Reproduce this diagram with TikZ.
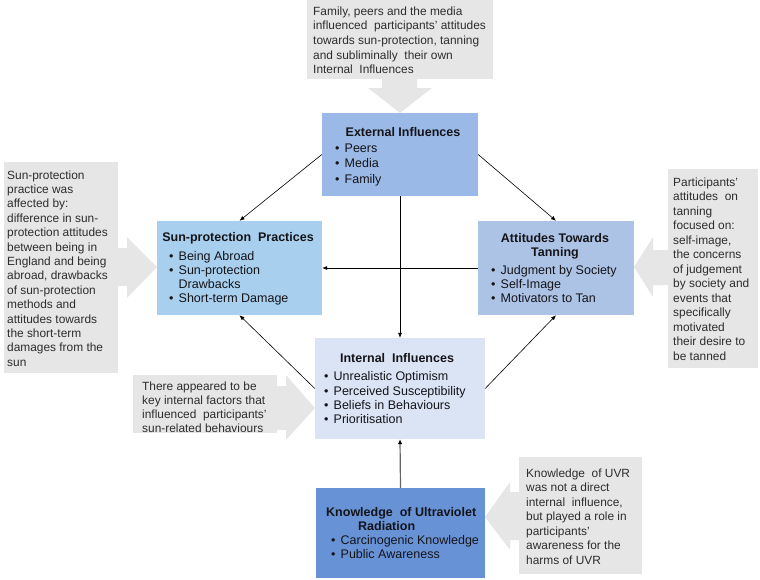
\documentclass[tikz,border=0pt]{standalone}
\usepackage{fontspec}
\setmainfont{Liberation Sans}
\usetikzlibrary{arrows.meta}
\definecolor{cgray}{RGB}{230,230,230}
\definecolor{ctxt}{RGB}{45,45,45}
\definecolor{btxt}{RGB}{20,20,25}
\definecolor{extc}{RGB}{155,185,230}
\definecolor{sunc}{RGB}{169,207,238}
\definecolor{attc}{RGB}{173,195,230}
\definecolor{intc}{RGB}{219,228,245}
\definecolor{knowc}{RGB}{104,146,214}
\newcommand{\bl}{\makebox[9.5pt][l]{\textbullet}}
\newcommand{\bi}{\makebox[9.5pt][l]{}}
\begin{document}
\begin{tikzpicture}[x=1pt,y=-1pt,
  box/.style={rectangle,draw=none,inner sep=0},
  ctext/.style={font=\fontsize{11.9}{#1}\selectfont,align=left,inner sep=0,anchor=north west,text=ctxt},
  btitle/.style={font=\bfseries\fontsize{12.5}{14}\selectfont,inner sep=0,anchor=base,text=btxt},
  blist/.style={font=\fontsize{12.5}{#1}\selectfont,align=left,inner sep=0,anchor=north west,text=btxt},
  conn/.style={line width=0.6pt,-{Latex[length=5pt,width=4pt]}}
]
\useasboundingbox (0,0) rectangle (760,579);

% callout arrows
\fill[cgray] (382,79) -- (417,79) -- (417,88) -- (432,88) -- (400,113) -- (368,88) -- (382,88) -- cycle;
\fill[cgray] (118,248) -- (127,248) -- (127,237) -- (157,267) -- (127,298) -- (127,286) -- (118,286) -- cycle;
\fill[cgray] (668,250) -- (653,250) -- (653,237) -- (634,267) -- (653,297) -- (653,285) -- (668,285) -- cycle;
\fill[cgray] (277,386) -- (286,386) -- (286,375) -- (315,408) -- (286,440) -- (286,430) -- (277,430) -- cycle;
\fill[cgray] (519,492) -- (510,492) -- (510,482) -- (485,517) -- (510,550) -- (510,540) -- (519,540) -- cycle;

% callout boxes
\node[box,fill=cgray,minimum width=186pt,minimum height=79pt] (ctop) at (400,39.5) {};
\node[box,fill=cgray,minimum width=114pt,minimum height=211pt] (cleft) at (61,267.5) {};
\node[box,fill=cgray,minimum width=90pt,minimum height=199pt] (cright) at (713,268.5) {};
\node[box,fill=cgray,minimum width=144pt,minimum height=58pt] (cbl) at (205,404) {};
\node[box,fill=cgray,minimum width=123pt,minimum height=117pt] (cbr) at (580.5,515.5) {};

\node[ctext=14.7] (tctop) at (313,4.7) {\strut Family,\ peers and the\ media\\influenced\ \ participants'\ attitudes\\towards sun-protection,\ tanning\\and subliminally\ \ their own\\Internal\ \ Influences};
\node[ctext=14.4] (tcleft) at (7,168.9) {\strut Sun-protection\\practice was\\affected by:\\difference\ in sun-\\protection\ attitudes\\between\ being in\\England and being\\abroad, drawbacks\\of sun-protection\\methods\ and\\attitudes\ towards\\the short-term\\damages\ from the\\sun};
\node[ctext=14.5] (tcright) at (673,175.9) {\strut Participants'\\attitudes\ \ on\\tanning\\focused on:\\self-image,\\the concerns\\of judgement\\by society and\\events that\\specifically\\motivated\\their desire to\\be tanned};
\node[ctext=14] (tcbl) at (142,380.2) {\strut There appeared\ to be\\key internal\ factors that\\influenced\ \ participants'\\sun-related\ behaviours};
\node[ctext=14.5] (tcbr) at (526,466.9) {\strut Knowledge\ \ of UVR\\was not a direct\\internal\ \ influence,\\but played\ a role in\\participants'\\awareness\ for the\\harms of UVR};

% main boxes
\node[box,fill=extc,minimum width=156pt,minimum height=83pt] (ext) at (400,154.5) {};
\node[box,fill=sunc,minimum width=165pt,minimum height=94pt] (sun) at (239.5,268) {};
\node[box,fill=attc,minimum width=156pt,minimum height=94pt] (att) at (556,268) {};
\node[box,fill=intc,minimum width=170pt,minimum height=101pt] (int) at (400,388.5) {};
\node[box,fill=knowc,minimum width=169pt,minimum height=90pt] (know) at (400.5,533) {};

\node[btitle] (text) at (403,136.5) {External Influences};
\node[blist=15.7] (lext) at (335,141) {\strut\bl Peers\\\bl Media\\\bl Family};

\node[btitle] (tsun) at (238,241.5) {Sun-protection\ \ Practices};
\node[blist=13.9] (lsun) at (169,250.8) {\strut\bl Being Abroad\\\bl Sun-protection\\\bi Drawbacks\\\bl Short-term Damage};

\node[btitle,anchor=north,align=center] (tatt) at (555,232.7) {\strut Attitudes\ Towards\\Tanning};
\node[blist=14] (latt) at (491,264.7) {\strut\bl Judgment by Society\\\bl Self-Image\\\bl Motivators to Tan};

\node[btitle] (tint) at (397,362.5) {Internal\ \ Influences};
\node[blist=14.3] (lint) at (324,370.5) {\strut\bl Unrealistic Optimism\\\bl Perceived Susceptibility\\\bl Beliefs in Behaviours\\\bl Prioritisation};

\node[btitle,anchor=north west,align=left] (tknow) at (326,506.7) {\strut Knowledge\ \ of Ultraviolet\\\hspace*{32pt}Radiation};
\node[blist=13.5] (lknow) at (331,535) {\strut\bl Carcinogenic Knowledge\\\bl Public Awareness};

% connectors
\draw[conn] (ext.west) -- (sun.north);
\draw[conn] (ext.east) -- (att.north);
\draw[conn] (ext.south) -- (int.north);
\draw[conn] (att.west) -- (sun.east);
\draw[conn] (int.west) -- (sun.south);
\draw[conn] (int.east) -- (att.south);
\draw[draw=black!60,line width=1.2pt,-{Latex[length=5pt,width=4.5pt,fill=black,color=black]}] (know.north) -- (int.south);
\end{tikzpicture}
\end{document}
